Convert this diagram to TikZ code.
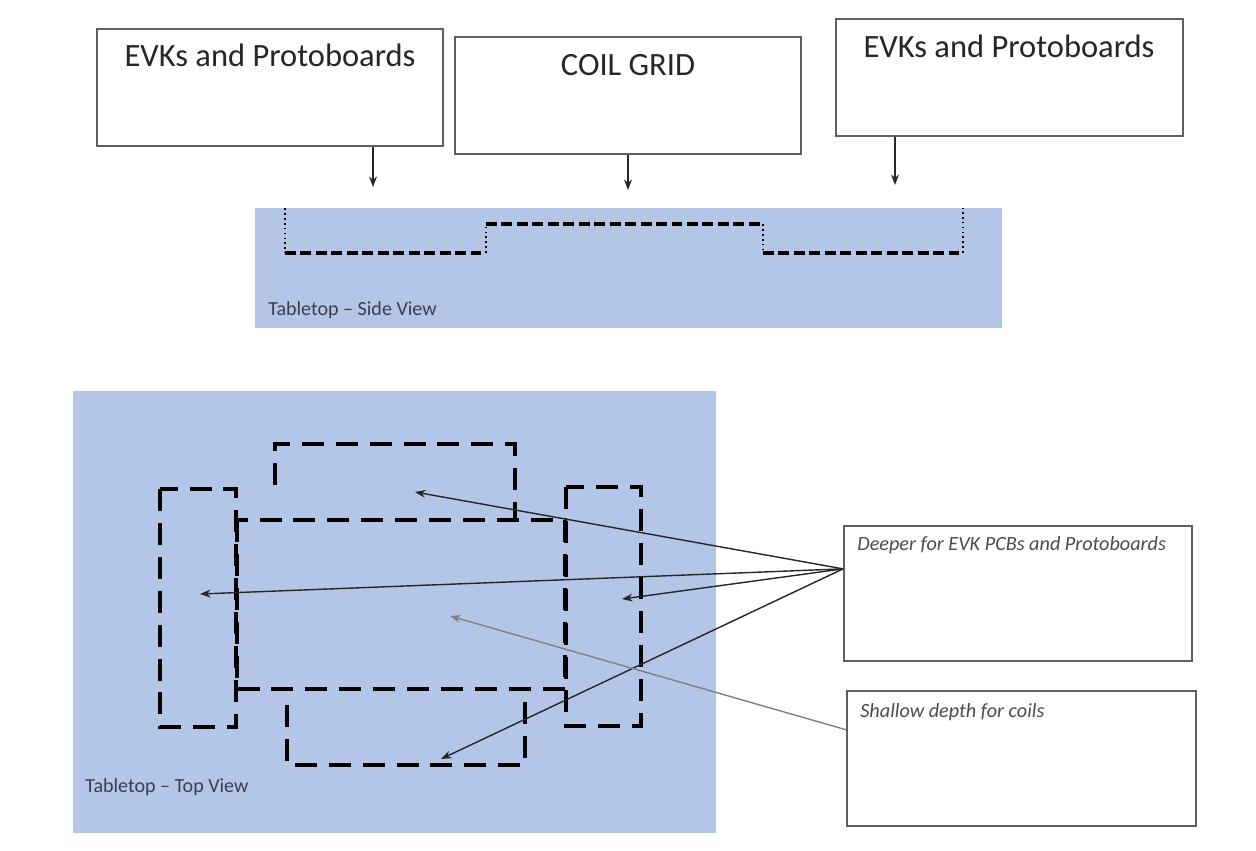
\documentclass[tikz,border=0pt]{standalone}
\usepackage{fontspec}
\setmainfont{Carlito}
\usetikzlibrary{arrows.meta,calc,fit}
\definecolor{tabblue}{HTML}{B4C6E7}
\definecolor{boxline}{HTML}{5F5F5F}
\definecolor{labtext}{HTML}{3A3F4A}
\begin{document}
\begin{tikzpicture}[x=0.02cm,y=-0.02cm,
  box/.style={draw=boxline, line width=1.1pt, fill=white, inner sep=0pt},
  title/.style={font=\fontsize{18.5}{20}\selectfont, text=black!85, inner sep=0pt, anchor=base},
  small/.style={font=\fontsize{11.4}{13}\selectfont, text=labtext, inner sep=0pt, anchor=base west},
  note/.style={font=\fontsize{11.5}{13}\selectfont\itshape, text=black!70, inner sep=0pt, anchor=base west},
  ptr/.style={-{Stealth[length=6pt,width=4.5pt]}, line width=0.8pt, black!85},
  gptr/.style={-{Stealth[length=6pt,width=4.5pt]}, line width=0.8pt, black!50},
  bigdash/.style={line width=2.6pt, dash pattern=on 12.5pt off 6.8pt},
  sdash/.style={line width=1.9pt, dash pattern=on 6.2pt off 2.6pt},
  sdot/.style={line width=0.9pt, dash pattern=on 1pt off 1.8pt}]
\useasboundingbox (0,0) rectangle (1256,850);

% top boxes
\node[box, fit={(97,29) (443,146)}] (b1) {};
\node[box, fit={(455,37) (801,154)}] (b2) {};
\node[box, fit={(836,19) (1183,136)}] (b3) {};
\node[title] (t1) at (270,66.5) {EVKs and Protoboards};
\node[title] (t2) at (628,75.5) {COIL GRID};
\node[title] (t3) at (1009,57) {EVKs and Protoboards};

% side view
\node[fill=tabblue, inner sep=0pt, fit={(255,208) (1002,328)}] (side) {};
\node[small] (sidelab) at (268,315.5) {Tabletop – Side View};
\coordinate (a1) at (373,187);
\coordinate (a2) at (628,190);
\coordinate (a3) at (895,185);
\draw[ptr] (b1.south -| a1) -- (a1);
\draw[ptr] (b2.south -| a2) -- (a2);
\draw[ptr] (b3.south -| a3) -- (a3);

\draw[sdot] (285,208) -- (285,253);
\draw[sdash] (285,253) -- (486,253);
\draw[sdot] (486,253) -- (486,224);
\draw[sdash] (486,224) -- (763,224);
\draw[sdot] (763,224) -- (763,253);
\draw[sdash] (763,253) -- (963,253);
\draw[sdot] (963,253) -- (963,208);

% top view
\node[fill=tabblue, inner sep=0pt, fit={(73,391) (716,833)}] (top) {};
\node[small] (toplab) at (85,792) {Tabletop – Top View};

\draw[bigdash] (275,485) -- (275,444) -- (515,444) -- (515,520);
\draw[bigdash] (160,489) rectangle (236,727);
\draw[bigdash] (237,520) rectangle (565,689);
\draw[bigdash] (566,487) rectangle (641,726);
\draw[bigdash] (287,705) -- (287,765) -- (525,765) -- (525,690);

% note boxes
\node[box, fit={(844,526) (1192,661)}] (deep) {};
\node[box, fit={(847,691) (1196,826)}] (shal) {};
\node[note] (deeptxt) at (857,550) {Deeper for EVK PCBs and Protoboards};
\node[note] (shaltxt) at (860,717) {Shallow depth for coils};

\coordinate (dsrc) at ($(deep.north west)!0.32!(deep.south west)$);
\coordinate (gsrc) at ($(shal.north west)!0.29!(shal.south west)$);
\coordinate (tA) at (415,492);
\coordinate (tB) at (200,594);
\coordinate (tC) at (622,599);
\coordinate (tD) at (441,759);
\coordinate (tG) at (450,616);
\draw[ptr] (dsrc) -- (tA);
\draw[ptr] (dsrc) -- (tB);
\draw[ptr] (dsrc) -- (tC);
\draw[ptr] (dsrc) -- (tD);
\draw[gptr] (gsrc) -- (tG);
\end{tikzpicture}
\end{document}
